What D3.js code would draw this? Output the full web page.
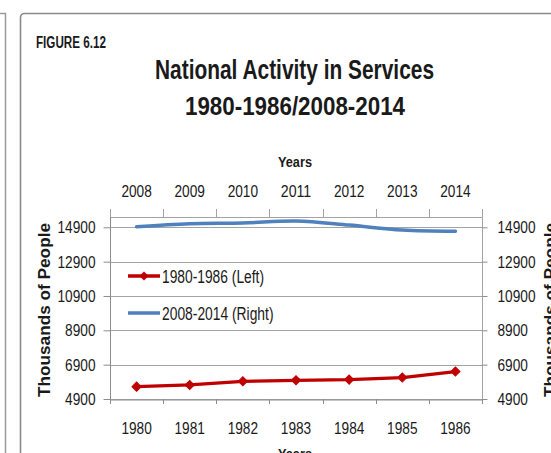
<!DOCTYPE html>
<html><head><meta charset="utf-8">
<script src="https://cdn.jsdelivr.net/npm/d3@7"></script>
<style>
body{margin:0;background:#fff}
svg{display:block}
text{font-family:"Liberation Sans",Arial,sans-serif;fill:#1a1a1a}
</style>
</head><body>
<svg id="c" width="551" height="453"></svg>
<script>
// ---- data ----
const yearsLeft = ["1980","1981","1982","1983","1984","1985","1986"];
const yearsRight = ["2008","2009","2010","2011","2012","2013","2014"];
const services1980s = [5620, 5720, 5930, 5990, 6030, 6150, 6500];
const services2008s = [14935, 15110, 15150, 15270, 15030, 14740, 14670];
const yTicks = [4900, 6900, 8900, 10900, 12900, 14900];
const seriesNames = ["1980-1986 (Left)", "2008-2014 (Right)"];
const figureLabel = "FIGURE 6.12";
const titleLines = ["National Activity in Services", "1980-1986/2008-2014"];
const xTitle = "Years";
const yTitle = "Thousands of People";

// ---- layout ----
const svg = d3.select("#c");
const P = {l:110, r:482, t:217, b:399};
const RED = "#C00000", BLUE = "#4F81BD", GRID = "#a3a3a3", AXIS = "#8c8c8c";

const xL = d3.scaleBand().domain(yearsLeft).range([P.l, P.r]);
const xR = d3.scaleBand().domain(yearsRight).range([P.l, P.r]);
const y = d3.scaleLinear().domain([4900, 15500]).range([P.b, P.t]);
const bw = xL.bandwidth();

// frames
svg.append("path").attr("d","M0,13.5H5.5V453").attr("fill","none").attr("stroke","#9a9a9a").attr("stroke-width",1.5);
svg.append("rect").attr("x",20.5).attr("y",13.5).attr("width",600).attr("height",500).attr("rx",4)
  .attr("fill","none").attr("stroke","#8a8a8a").attr("stroke-width",1.6);

// figure label + title
svg.append("text").attr("x",36).attr("y",47.7).attr("font-weight","bold").attr("font-size",16)
  .attr("textLength",70).attr("lengthAdjust","spacingAndGlyphs").text(figureLabel);
svg.append("text").attr("x",294.5).attr("y",78.5).attr("text-anchor","middle").attr("font-weight","bold")
  .attr("font-size",28).attr("textLength",279).attr("lengthAdjust","spacingAndGlyphs").text(titleLines[0]);
svg.append("text").attr("x",295).attr("y",115).attr("text-anchor","middle").attr("font-weight","bold")
  .attr("font-size",25.5).attr("textLength",220).attr("lengthAdjust","spacingAndGlyphs").text(titleLines[1]);

// gridlines
svg.append("g").selectAll("line").data(yTicks).join("line")
  .attr("x1",P.l).attr("x2",P.r).attr("y1",d=>Math.round(y(d))+0.5).attr("y2",d=>Math.round(y(d))+0.5)
  .attr("stroke",GRID).attr("stroke-width",1);
// plot border top/right
svg.append("path").attr("d",`M${P.l},${P.t+0.5}H${P.r+0.5}V${P.b}`).attr("fill","none").attr("stroke",GRID);

// axes
function styleAxis(g){
  g.attr("font-size",null).attr("font-family",null);
  g.selectAll("path.domain").attr("stroke",AXIS);
  g.selectAll(".tick line").attr("stroke",AXIS);
  g.selectAll("text").attr("font-size",17).attr("fill","#1a1a1a")
    .attr("textLength",function(){ return this.textContent.length*7.6; })
    .attr("lengthAdjust","spacingAndGlyphs");
}

const gB = svg.append("g").attr("transform",`translate(0,${P.b+0.5})`)
  .call(d3.axisBottom(xL).tickSize(0).tickPadding(34)).call(styleAxis);
gB.selectAll("text").attr("dy","0");
const gT = svg.append("g").attr("transform",`translate(0,${P.t+0.5})`)
  .call(d3.axisTop(xR).tickSize(0).tickPadding(20.5)).call(styleAxis);
gT.select("path.domain").remove();

// category boundary ticks
const bounds = yearsLeft.map(d=>xL(d)).concat([P.r]);
svg.append("g").selectAll("line").data(bounds).join("line")
  .attr("x1",d=>Math.round(d)+0.5).attr("x2",d=>Math.round(d)+0.5).attr("y1",P.b).attr("y2",P.b+5).attr("stroke",AXIS);
svg.append("g").selectAll("line").data(bounds).join("line")
  .attr("x1",d=>Math.round(d)+0.5).attr("x2",d=>Math.round(d)+0.5).attr("y1",P.t).attr("y2",P.t-8).attr("stroke",GRID);

const gL = svg.append("g").attr("transform",`translate(${P.l+0.5},0)`)
  .call(d3.axisLeft(y).tickValues(yTicks).tickFormat(d3.format("d")).tickSizeInner(7).tickSizeOuter(0).tickPadding(8)).call(styleAxis);
gL.select("path.domain").attr("d",`M0,${P.t}V${P.b+0.5}`);
const gR = svg.append("g").attr("transform",`translate(${P.r+0.5},0)`)
  .call(d3.axisRight(y).tickValues(yTicks).tickFormat(d3.format("d")).tickSizeInner(5).tickSizeOuter(0).tickPadding(10)).call(styleAxis);
gR.select("path.domain").remove();

// axis titles
svg.append("text").attr("x",295).attr("y",166.5).attr("text-anchor","middle").attr("font-weight","bold")
  .attr("font-size",15.5).attr("textLength",34).attr("lengthAdjust","spacingAndGlyphs").text(xTitle);
svg.append("text").attr("x",295).attr("y",459).attr("text-anchor","middle").attr("font-weight","bold")
  .attr("font-size",15.5).attr("textLength",34).attr("lengthAdjust","spacingAndGlyphs").text(xTitle);
svg.append("text").attr("transform","translate(50,310) rotate(-90)").attr("text-anchor","middle").attr("font-weight","bold")
  .attr("font-size",17).attr("textLength",174).attr("lengthAdjust","spacingAndGlyphs").text(yTitle);
svg.append("text").attr("transform","translate(556,310) rotate(-90)").attr("text-anchor","middle").attr("font-weight","bold")
  .attr("font-size",17).attr("textLength",174).attr("lengthAdjust","spacingAndGlyphs").text(yTitle);

// series
const blueLine = d3.line().curve(d3.curveCatmullRom.alpha(0.5))
  .x((d,i)=>xR(yearsRight[i])+bw/2).y(d=>y(d));
svg.append("path").datum(services2008s).attr("d",blueLine).attr("fill","none")
  .attr("stroke",BLUE).attr("stroke-width",3.5).attr("stroke-linecap","round");

const redLine = d3.line().x((d,i)=>xL(yearsLeft[i])+bw/2).y(d=>y(d));
svg.append("path").datum(services1980s).attr("d",redLine).attr("fill","none")
  .attr("stroke",RED).attr("stroke-width",3.3).attr("stroke-linejoin","round");
const diamond = d3.symbol(d3.symbolSquare, 42);
svg.append("g").selectAll("path").data(services1980s).join("path")
  .attr("d",diamond).attr("fill",RED).attr("stroke",RED).attr("stroke-width",1)
  .attr("transform",(d,i)=>`translate(${xL(yearsLeft[i])+bw/2},${y(d)}) rotate(45)`);

// legend
const lg = svg.append("g");
const legY = [276, 313];
const legCol = [RED, BLUE];
const legLen = [102, 111.5];
seriesNames.forEach((name,i)=>{
  lg.append("line").attr("x1",128).attr("x2",160).attr("y1",legY[i]).attr("y2",legY[i])
    .attr("stroke",legCol[i]).attr("stroke-width",3.5);
  if(i===0) lg.append("path").attr("d",diamond).attr("fill",RED)
    .attr("transform",`translate(144,${legY[i]}) rotate(45)`);
  lg.append("text").attr("x",162).attr("y",legY[i]+6.5).attr("font-size",17.5)
    .attr("textLength",legLen[i]).attr("lengthAdjust","spacingAndGlyphs").text(name);
});
</script>
</body></html>
